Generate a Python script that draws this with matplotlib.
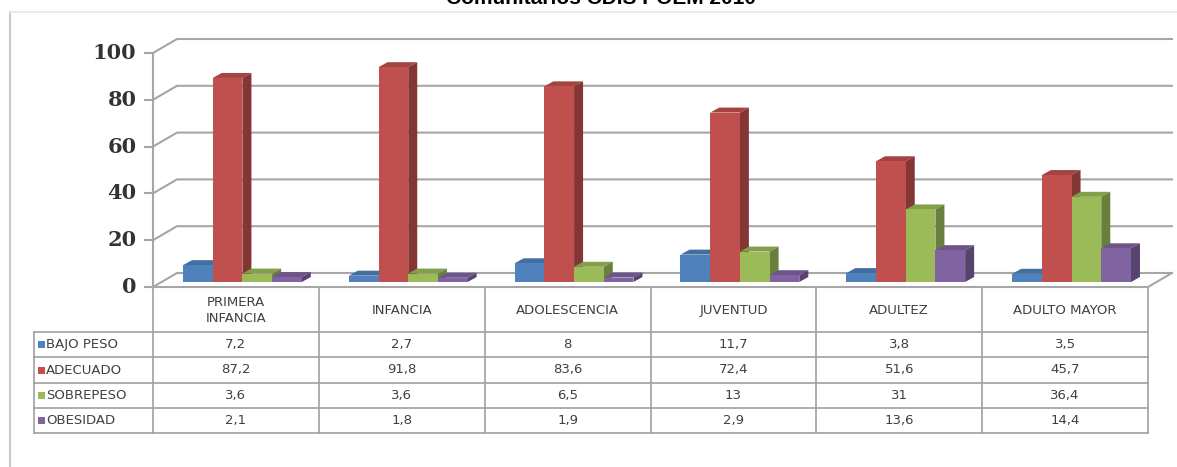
import matplotlib.pyplot as plt
from matplotlib.colors import to_rgb
from matplotlib.patches import Polygon, Rectangle

# data
categories = ['PRIMERA\nINFANCIA', 'INFANCIA', 'ADOLESCENCIA', 'JUVENTUD', 'ADULTEZ', 'ADULTO MAYOR']
series_names = ['BAJO PESO', 'ADECUADO', 'SOBREPESO', 'OBESIDAD']
bajo_peso = [7.2, 2.7, 8, 11.7, 3.8, 3.5]
adecuado = [87.2, 91.8, 83.6, 72.4, 51.6, 45.7]
sobrepeso = [3.6, 3.6, 6.5, 13, 31, 36.4]
obesidad = [2.1, 1.8, 1.9, 2.9, 13.6, 14.4]
y_ticks = [0, 20, 40, 60, 80, 100]
title = 'Comunitarios CDIS POEM 2010'

series = [bajo_peso, adecuado, sobrepeso, obesidad]
colors = ['#4F81BD', '#C0504D', '#9BBB59', '#8064A2']
grid_col = '#A6A6A6'
text_col = '#404040'


def shade(c, f):
    r, g, b = to_rgb(c)
    return (r * f, g * f, b * f)


def fmt(v):
    return f'{v:g}'.replace('.', ',')


W, H = 1177, 467
fig = plt.figure(figsize=(W / 100, H / 100), dpi=100)

# overlay in pixel coords for frame, title and table
ov = fig.add_axes([0, 0, 1, 1], zorder=0)
ov.set_xlim(0, W)
ov.set_ylim(H, 0)
ov.axis('off')

# plot area (front plane) in pixels
L, R, T, B = 153, 1148, 53, 287
n = len(categories)
ax = fig.add_axes([L / W, (H - B) / H, (R - L) / W, (B - T) / H], zorder=1)
ax.set_xlim(0, n)
ax.set_ylim(0, 100)
ax.axis('off')

pxx = (R - L) / n          # pixels per category
pxy = (B - T) / 100        # pixels per unit
DX, DY = 24 / pxx, 14 / pxy          # wall depth
off0, bw = 30 / pxx, 29.7 / pxx      # bar start / width inside category
base = 5 / pxy
bdx, bdy = 9 / pxx, 5 / pxy          # bar depth

# frame + title (cut at the top edge, as in the original)
ov.plot([10, 10], [12, H], color='#C8C8C8', lw=1.5)
ov.plot([10, W], [12, 12], color='#E6E6E6', lw=1.2)
ov.text(601, 4, title, ha='center', va='baseline', fontsize=15,
        fontweight='bold', family='Liberation Sans', color='black')

# walls and gridlines
for v in y_ticks:
    ax.plot([0, DX, n + DX], [v, v + DY, v + DY], color=grid_col, lw=1.5,
            clip_on=False, zorder=1)
    ax.plot([-0.05, 0], [v, v], color=grid_col, lw=1.5, clip_on=False)
    ax.text(-0.1, v, str(v), ha='right', va='center', fontsize=15,
            fontweight='bold', family='DejaVu Serif', color='#333333')
ax.plot([0, 0], [0, 100], color=grid_col, lw=1.5, clip_on=False)
ax.plot([0, n, n + DX], [0, 0, DY], color=grid_col, lw=1.5, clip_on=False)

# 3D columns
z = 3
for i in range(n):
    for k, vals in enumerate(series):
        v = vals[i]
        x0 = i + off0 + k * bw
        c = colors[k]
        top = base + v
        ax.add_patch(Polygon([(x0, top), (x0 + bw, top), (x0 + bw + bdx, top + bdy),
                              (x0 + bdx, top + bdy)], closed=True, fc=shade(c, 0.85),
                             ec='none', clip_on=False, zorder=z))
        ax.add_patch(Polygon([(x0 + bw, base), (x0 + bw, top), (x0 + bw + bdx, top + bdy),
                              (x0 + bw + bdx, base + bdy)], closed=True, fc=shade(c, 0.68),
                             ec='none', clip_on=False, zorder=z))
        ax.add_patch(Rectangle((x0, base), bw, v, fc=c, ec='none',
                               clip_on=False, zorder=z + 0.5))
        z += 1

# data table
edges = [L + i * pxx for i in range(n + 1)]
rows = [332, 357, 383, 408, 433]
lab_left = 34
tc = '#A0A0A0'
for x in edges:
    ov.plot([x, x], [B, rows[-1]], color=tc, lw=1.2)
ov.plot([lab_left, lab_left], [rows[0], rows[-1]], color=tc, lw=1.2)
for y in rows:
    ov.plot([lab_left, R], [y, y], color=tc, lw=1.2)

for i, cat in enumerate(categories):
    ov.text((edges[i] + edges[i + 1]) / 2, (B + rows[0]) / 2 + 1, cat, ha='center',
            va='center', fontsize=9.5, color=text_col, linespacing=1.25)

for k, name in enumerate(series_names):
    yc = (rows[k] + rows[k + 1]) / 2
    ov.add_patch(Rectangle((38, yc - 3.5), 7, 7, fc=colors[k], ec='none'))
    ov.text(46, yc, name, ha='left', va='center', fontsize=9.5, color=text_col)
    for i in range(n):
        ov.text((edges[i] + edges[i + 1]) / 2, yc, fmt(series[k][i]), ha='center',
                va='center', fontsize=9.5, color=text_col)

fig.savefig('out.png', dpi=100)
